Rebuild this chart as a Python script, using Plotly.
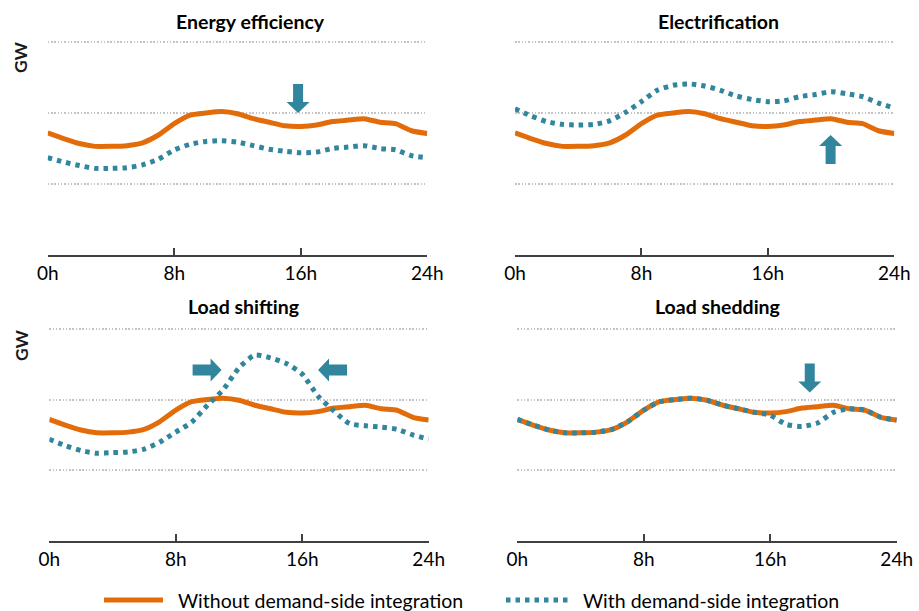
import plotly.graph_objects as go

W, H = 919, 611

hours = list(range(25))
tick_vals = [0, 8, 16, 24]
tick_text = ["0h", "8h", "16h", "24h"]
panel_titles = ["Energy efficiency", "Electrification", "Load shifting", "Load shedding"]
series_names = ["Without demand-side integration", "With demand-side integration"]

without_dsi = [1.72, 1.64, 1.57, 1.53, 1.53, 1.54, 1.58, 1.69, 1.85, 1.97, 2.00, 2.02, 1.99,
               1.92, 1.87, 1.82, 1.81, 1.83, 1.88, 1.90, 1.92, 1.87, 1.85, 1.75, 1.71]
with_efficiency = [1.37, 1.31, 1.26, 1.22, 1.22, 1.23, 1.27, 1.35, 1.48, 1.56, 1.60, 1.61, 1.59,
                   1.54, 1.49, 1.46, 1.44, 1.45, 1.50, 1.52, 1.54, 1.50, 1.48, 1.40, 1.37]
with_electrification = [2.06, 1.96, 1.88, 1.84, 1.83, 1.84, 1.89, 2.01, 2.16, 2.32, 2.39, 2.41, 2.38,
                        2.32, 2.24, 2.19, 2.16, 2.17, 2.23, 2.26, 2.30, 2.27, 2.23, 2.14, 2.07]
with_shifting = [1.44, 1.35, 1.28, 1.24, 1.25, 1.26, 1.30, 1.40, 1.54, 1.68, 1.92, 2.14, 2.45,
                 2.63, 2.59, 2.51, 2.36, 2.05, 1.84, 1.66, 1.63, 1.61, 1.58, 1.50, 1.44]
with_shedding = [1.72, 1.64, 1.57, 1.53, 1.53, 1.54, 1.58, 1.69, 1.85, 1.97, 2.00, 2.02, 1.99,
                 1.92, 1.87, 1.82, 1.78, 1.65, 1.62, 1.67, 1.82, 1.87, 1.85, 1.75, 1.71]
with_series = [with_efficiency, with_electrification, with_shifting, with_shedding]

# arrows: (panel, hour, value, direction)
arrows = [(0, 15.83, 2.00, "down"), (1, 19.97, 1.69, "up"),
          (2, 10.9, 2.42, "right"), (2, 17.0, 2.42, "left"), (3, 18.5, 2.10, "down")]

ORANGE = "#E36C0A"
TEAL = "#31859C"
AXIS = "#404040"
FONT = "Lato"

# panel pixel boxes: (x0, x1, y_bottom(value 0), px per unit, title centre x, title y)
panels = [(47.7, 427.3, 255.0, 71.0, 250.5, 21), (515.0, 894.3, 255.0, 71.0, 718, 21),
          (49.3, 428.7, 541.0, 70.7, 244, 306), (517.3, 896.7, 541.0, 70.7, 717, 306)]
YMAX = 3.1

def fx(px):
    return px / W

def fy(py):
    return 1 - py / H

fig = go.Figure()
layout = dict(width=W, height=H, margin=dict(l=0, r=0, t=0, b=0, autoexpand=False),
              plot_bgcolor="white", paper_bgcolor="white", showlegend=False,
              font=dict(family=FONT, color="#000000"))
shapes = []
annotations = []

for i, (x0, x1, yb, ppu, tx, ty) in enumerate(panels):
    n = "" if i == 0 else str(i + 1)
    xa, ya = "x" + n, "y" + n
    layout["xaxis" + n] = dict(domain=[fx(x0), fx(x1)], range=[0, 24], anchor=ya,
                               tickvals=tick_vals, ticktext=tick_text, showgrid=False,
                               showline=True, linecolor=AXIS, linewidth=1.5, ticks="inside",
                               ticklen=7, tickwidth=1.5, tickcolor=AXIS, zeroline=False,
                               tickfont=dict(family=FONT, size=19, color="#000000"), fixedrange=True)
    layout["yaxis" + n] = dict(domain=[fy(yb), fy(yb - YMAX * ppu)], range=[0, YMAX], anchor=xa,
                               tickvals=[1, 2, 3], showticklabels=False, showgrid=True,
                               gridcolor="#c4c4c4", griddash="1.5px,1.8px", gridwidth=1.5,
                               showline=False, zeroline=False, ticks="", fixedrange=True)
    fig.add_trace(go.Scatter(x=hours, y=without_dsi, mode="lines", name=series_names[0],
                             line=dict(color=ORANGE, width=5, shape="spline", smoothing=0.5),
                             xaxis=xa, yaxis=ya))
    fig.add_trace(go.Scatter(x=hours, y=with_series[i], mode="lines", name=series_names[1],
                             line=dict(color=TEAL, width=5, dash="4.5px,5px", shape="spline", smoothing=0.6),
                             xaxis=xa, yaxis=ya))
    annotations.append(dict(text="<b>%s</b>" % panel_titles[i], xref="paper", yref="paper",
                            x=fx(tx), y=fy(ty), xanchor="center", yanchor="middle",
                            showarrow=False, font=dict(family=FONT, size=19.5, color="#000000")))
    if i % 2 == 0:
        gy = 57 if i == 0 else 345
        annotations.append(dict(text="<b>GW</b>", xref="paper", yref="paper", x=fx(21), y=fy(gy),
                                xanchor="center", yanchor="middle", showarrow=False, textangle=-90,
                                font=dict(family=FONT, size=17.5, color="#1a1a1a")))

paths = {
    "down": "M 0 0 L -11.5 11 L -5 11 L -5 29 L 5 29 L 5 11 L 11.5 11 Z",
    "up": "M 0 0 L -11.5 -11 L -5 -11 L -5 -29 L 5 -29 L 5 -11 L 11.5 -11 Z",
    "right": "M 0 0 L -11 11.5 L -11 5.5 L -29 5.5 L -29 -5.5 L -11 -5.5 L -11 -11.5 Z",
    "left": "M 0 0 L 11 11.5 L 11 5.5 L 29 5.5 L 29 -5.5 L 11 -5.5 L 11 -11.5 Z",
}
for p, hx, vy, d in arrows:
    n = "" if p == 0 else str(p + 1)
    shapes.append(dict(type="path", xref="x" + n, yref="y" + n, xsizemode="pixel", ysizemode="pixel",
                       xanchor=hx, yanchor=vy, path=paths[d], fillcolor=TEAL, line=dict(width=0)))

# legend
ly = 600
shapes.append(dict(type="line", xref="paper", yref="paper", x0=fx(104), x1=fx(163), y0=fy(ly), y1=fy(ly),
                   line=dict(color=ORANGE, width=5)))
shapes.append(dict(type="line", xref="paper", yref="paper", x0=fx(506), x1=fx(570), y0=fy(ly), y1=fy(ly),
                   line=dict(color=TEAL, width=5, dash="4.5px,5px")))
annotations.append(dict(text=series_names[0], xref="paper", yref="paper", x=fx(176), y=fy(ly),
                        xanchor="left", yanchor="middle", showarrow=False,
                        font=dict(family=FONT, size=19.5, color="#000000")))
annotations.append(dict(text=series_names[1], xref="paper", yref="paper", x=fx(581), y=fy(ly),
                        xanchor="left", yanchor="middle", showarrow=False,
                        font=dict(family=FONT, size=19.5, color="#000000")))

layout["shapes"] = shapes
layout["annotations"] = annotations
fig.update_layout(**layout)
fig.write_html("out.html", config={"responsive": False, "displayModeBar": False},
               post_script="document.body.style.margin='0';document.body.style.overflow='hidden';")
